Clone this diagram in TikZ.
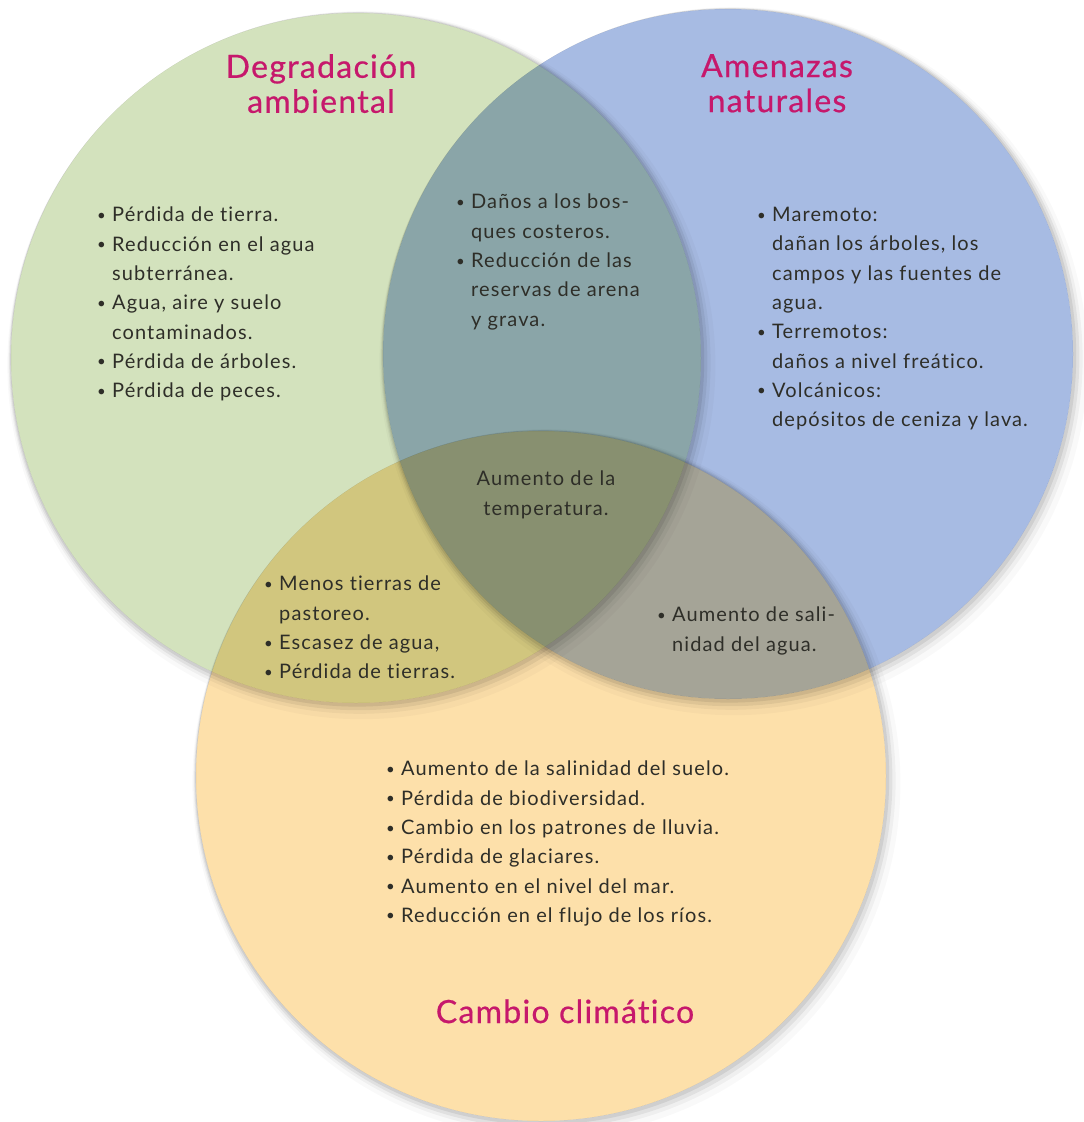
\documentclass[tikz,border=0pt]{standalone}
\usepackage{fontspec}
\setmainfont[Ligatures={NoCommon}]{Lato}
\definecolor{verde}{RGB}{211,226,189}
\definecolor{azul}{RGB}{167,187,227}
\definecolor{naranja}{RGB}{253,224,170}
\definecolor{magenta}{RGB}{198,24,108}
\definecolor{texto}{RGB}{46,46,40}
\newcommand{\itm}{\makebox[15pt][l]{\raisebox{0.15ex}{\scalebox{0.75}{\textbullet}}}}
\newcommand{\sig}{\hspace*{15pt}}
\tikzset{
  lista/.style={anchor=north west, align=left, text=texto, inner sep=0pt,
    font=\fontsize{20}{29.3}\selectfont\addfontfeatures{LetterSpace=5.5}},
  encabezado/.style={align=center, text=magenta, inner sep=0pt,
    font=\fontsize{32}{35}\selectfont\addfontfeatures{LetterSpace=4,FakeBold=0.6}},
  sombra/.style={fill=black, even odd rule},
  conjunto/.style={blend mode=multiply},
}
\begin{document}
\begin{tikzpicture}[x=1pt,y=-1pt]
\useasboundingbox (0,0) rectangle (1084,1122);
\fill[white] (0,0) rectangle (1084,1122);

\coordinate (cv) at (356,358);
\coordinate (ca) at (728,354);
\coordinate (cn) at (541,776);

% sombras
\foreach \c in {cv,ca,cn}{
  \foreach \d/\o in {2/0.08,4/0.06,6/0.04,9/0.025}
    \fill[sombra, opacity=\o] ([shift={(0.6*\d,0.8*\d)}]\c) circle (345pt+\d pt) (\c) circle (345pt);
}

\fill[verde, conjunto] (cv) circle (345pt);
\fill[azul, conjunto] (ca) circle (345pt);
\fill[naranja, conjunto] (cn) circle (345pt);

\node[encabezado, anchor=north] (tdeg) at (321,54) {Degradación\\ambiental};
\node[encabezado, anchor=north] (tame) at (777,54) {Amenazas\\naturales};
\node[encabezado, anchor=base] (tcam) at (565,1023) {Cambio climático};

\node[lista] (ldeg) at (97,207) {\itm Pérdida de tierra.\\
  \itm Reducción en el agua\\ \sig subterránea.\\
  \itm Agua, aire y suelo\\ \sig contaminados.\\
  \itm Pérdida de árboles.\\
  \itm Pérdida de peces.};

\node[lista] (lda) at (456,194) {\itm Daños a los bos-\\ \sig ques costeros.\\
  \itm Reducción de las\\ \sig reservas de arena\\ \sig y grava.};

\node[lista] (lame) at (757,207) {\itm Maremoto:\\ \sig dañan los árboles, los\\
  \sig campos y las fuentes de\\ \sig agua.\\
  \itm Terremotos:\\ \sig daños a nivel freático.\\
  \itm Volcánicos:\\ \sig depósitos de ceniza y lava.};

\node[lista, anchor=north, align=center] (ltodos) at (546,471) {Aumento de la\\temperatura.};

\node[lista] (ldn) at (264,576) {\itm Menos tierras de\\ \sig pastoreo.\\
  \itm Escasez de agua,\\ \itm Pérdida de tierras.};

\node[lista] (lan) at (657,607) {\itm Aumento de sali-\\ \sig nidad del agua.};

\node[lista] (lcam) at (386,761) {\itm Aumento de la salinidad del suelo.\\
  \itm Pérdida de biodiversidad.\\
  \itm Cambio en los patrones de lluvia.\\
  \itm Pérdida de glaciares.\\
  \itm Aumento en el nivel del mar.\\
  \itm Reducción en el flujo de los ríos.};

\end{tikzpicture}
\end{document}
